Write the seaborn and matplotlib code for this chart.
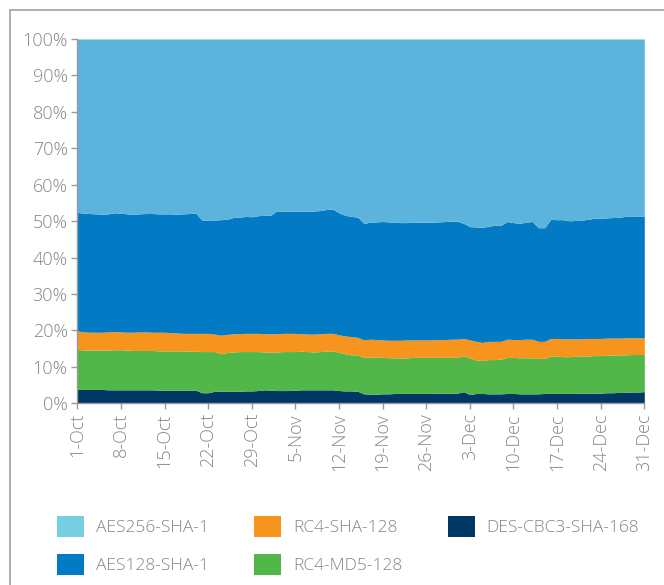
import numpy as np
import pandas as pd
import matplotlib
matplotlib.use("Agg")
import matplotlib.pyplot as plt
import seaborn as sns
from matplotlib.patches import Patch
from matplotlib.lines import Line2D

# Tope de cada banda (porcentaje acumulado), un valor por día, 1-Oct .. 31-Dec
des_top = [3.8, 3.8, 3.8, 3.8, 3.8, 3.7, 3.7,
           3.7, 3.7, 3.7, 3.7, 3.7, 3.7, 3.6,
           3.6, 3.6, 3.6, 3.6, 3.6, 3.6, 2.9,
           2.9, 3.3, 3.3, 3.3, 3.3, 3.3, 3.4,
           3.4, 3.5, 3.7, 3.6, 3.5, 3.5, 3.5,
           3.6, 3.7, 3.7, 3.7, 3.7, 3.7, 3.7,
           3.5, 3.4, 3.4, 3.3, 2.6, 2.5, 2.5,
           2.6, 2.6, 2.7, 2.7, 2.7, 2.7, 2.7,
           2.7, 2.7, 2.8, 2.8, 2.8, 2.8, 3.2,
           2.4, 2.7, 2.7, 2.6, 2.6, 2.6, 2.7,
           2.7, 2.6, 2.6, 2.6, 2.6, 2.7, 2.7,
           2.7, 2.7, 2.7, 2.7, 2.8, 2.8, 2.8,
           2.8, 2.9, 2.9, 3.0, 3.0, 3.1, 3.1,
           3.2]

md5_top = [14.8, 14.6, 14.6, 14.6, 14.6, 14.6, 14.7,
           14.7, 14.6, 14.5, 14.5, 14.5, 14.5, 14.4,
           14.4, 14.4, 14.4, 14.4, 14.3, 14.3, 14.2,
           14.2, 14.2, 13.6, 13.9, 14.1, 14.2, 14.2,
           14.2, 14.2, 14.1, 14.0, 14.1, 14.2, 14.2,
           14.2, 14.3, 14.2, 14.1, 14.2, 14.3, 14.4,
           14.0, 13.6, 13.3, 13.3, 12.6, 12.7, 12.7,
           12.6, 12.5, 12.5, 12.4, 12.5, 12.6, 12.6,
           12.6, 12.6, 12.6, 12.6, 12.6, 12.6, 13.1,
           12.4, 11.9, 11.7, 12.0, 12.0, 12.1, 12.6,
           12.6, 12.5, 12.5, 12.5, 12.3, 12.4, 13.0,
           12.9, 12.8, 12.8, 12.9, 12.9, 13.0, 13.1,
           13.1, 13.2, 13.2, 13.3, 13.3, 13.4, 13.4,
           13.4]

sha_top = [19.9, 19.6, 19.5, 19.5, 19.5, 19.6, 19.7,
           19.6, 19.5, 19.5, 19.6, 19.6, 19.5, 19.5,
           19.5, 19.4, 19.3, 19.2, 19.2, 19.2, 19.2,
           19.2, 19.0, 18.7, 18.9, 19.1, 19.1, 19.2,
           19.2, 19.2, 19.1, 19.1, 19.1, 19.2, 19.2,
           19.2, 19.1, 19.0, 19.0, 19.1, 19.2, 19.2,
           18.8, 18.5, 18.3, 18.1, 17.4, 17.6, 17.5,
           17.4, 17.3, 17.3, 17.3, 17.4, 17.4, 17.4,
           17.4, 17.4, 17.5, 17.5, 17.6, 17.6, 17.8,
           17.4, 17.0, 16.7, 17.0, 17.0, 17.0, 17.6,
           17.5, 17.5, 17.6, 17.6, 17.0, 17.0, 17.8,
           17.8, 17.7, 17.7, 17.7, 17.7, 17.8, 17.8,
           17.8, 17.9, 17.9, 17.9, 18.0, 18.0, 18.0,
           18.0]

aes128_top = [52.4, 52.2, 52.1, 52.0, 51.9, 52.0, 52.3,
              52.2, 52.0, 51.9, 52.0, 52.1, 52.1, 52.0,
              52.0, 52.0, 51.9, 52.0, 52.1, 52.2, 50.3,
              50.3, 50.3, 50.4, 50.5, 51.0, 51.1, 51.3,
              51.2, 51.5, 51.6, 51.6, 52.8, 52.7, 52.7,
              52.7, 52.7, 52.7, 52.8, 52.9, 53.2, 53.3,
              52.3, 51.6, 51.3, 51.1, 49.4, 49.7, 49.8,
              49.9, 49.8, 49.7, 49.6, 49.6, 49.7, 49.7,
              49.7, 49.7, 49.8, 49.9, 50.0, 50.0, 49.4,
              48.5, 48.4, 48.3, 48.6, 48.9, 48.9, 49.9,
              49.6, 49.4, 49.7, 49.9, 48.2, 48.2, 50.5,
              50.4, 50.4, 50.1, 50.2, 50.3, 50.5, 50.8,
              50.8, 50.9, 51.0, 51.1, 51.3, 51.4, 51.4,
              51.4]

fechas = pd.date_range("2013-10-01", "2013-12-31", freq="D")
dias = np.arange(len(fechas))

# cuota de cada cifrado = diferencia entre topes
des = np.array(des_top)
md5 = np.array(md5_top) - des
sha = np.array(sha_top) - np.array(md5_top)
aes128 = np.array(aes128_top) - np.array(sha_top)
aes256 = 100 - np.array(aes128_top)

nombres = ["DES-CBC3-SHA-168", "RC4-MD5-128", "RC4-SHA-128", "AES128-SHA-1", "AES256-SHA-1"]
colores = ["#003865", "#50b748", "#f7941e", "#037bc4", "#5cb4dd"]
colores_leyenda = {"AES256-SHA-1": "#76cfe1", "AES128-SHA-1": "#037bc4",
                   "RC4-SHA-128": "#f7941e", "RC4-MD5-128": "#50b748",
                   "DES-CBC3-SHA-168": "#003865"}

sns.set_theme(style="white")
plt.rcParams["font.family"] = ["Open Sans", "DejaVu Sans"]
plt.rcParams["font.weight"] = "light"
gris = "#858585"

fig = plt.figure(figsize=(6.64, 5.85), dpi=100)
ax = fig.add_axes([77.3 / 664, 1 - 403.3 / 585, (644.3 - 77.3) / 664, (403.3 - 39) / 585])

ax.stackplot(dias, des, md5, sha, aes128, aes256, colors=colores, linewidth=0)

ax.set_xlim(0, dias[-1])
ax.set_ylim(0, 100)
ax.set_yticks(np.arange(0, 101, 10))
ax.set_yticklabels([f"{v}%" for v in range(0, 101, 10)])
ticks = sorted(set(dias[::7].tolist() + [dias[-1]]))
ax.set_xticks(ticks)
ax.set_xticklabels([f"{fechas[i].day}-{fechas[i].strftime('%b')}" for i in ticks], rotation=90)

sns.despine(ax=ax)
for lado in ["left", "bottom"]:
    ax.spines[lado].set_color("#9a9a9a")
    ax.spines[lado].set_linewidth(1.0)
ax.tick_params(axis="both", colors="#9a9a9a", labelcolor=gris, labelsize=13,
               length=4, width=1, direction="out", pad=3)
ax.tick_params(axis="y", left=True)
ax.tick_params(axis="x", bottom=True)

# marco exterior gris
fig.add_artist(Line2D([9.5 / 664, 1], [1 - 9.5 / 585, 1 - 9.5 / 585], color="#a0a0a0", lw=1.2))
fig.add_artist(Line2D([9.5 / 664, 9.5 / 664], [0, 1 - 9.5 / 585], color="#a0a0a0", lw=1.2))

orden = ["AES256-SHA-1", "AES128-SHA-1", "RC4-SHA-128", "RC4-MD5-128", "DES-CBC3-SHA-168"]
handles = [Patch(facecolor=colores_leyenda[n], edgecolor="none", label=n) for n in orden]
fig.legend(handles=handles, loc="upper left", bbox_to_anchor=(57 / 664, 1 - 516 / 585),
           ncol=3, frameon=False, fontsize=12.5, labelcolor=gris,
           handlelength=1.56, handleheight=1.5, handletextpad=0.69,
           columnspacing=2.6, labelspacing=0.95, borderpad=0, borderaxespad=0)

fig.savefig("out.png", dpi=100)
